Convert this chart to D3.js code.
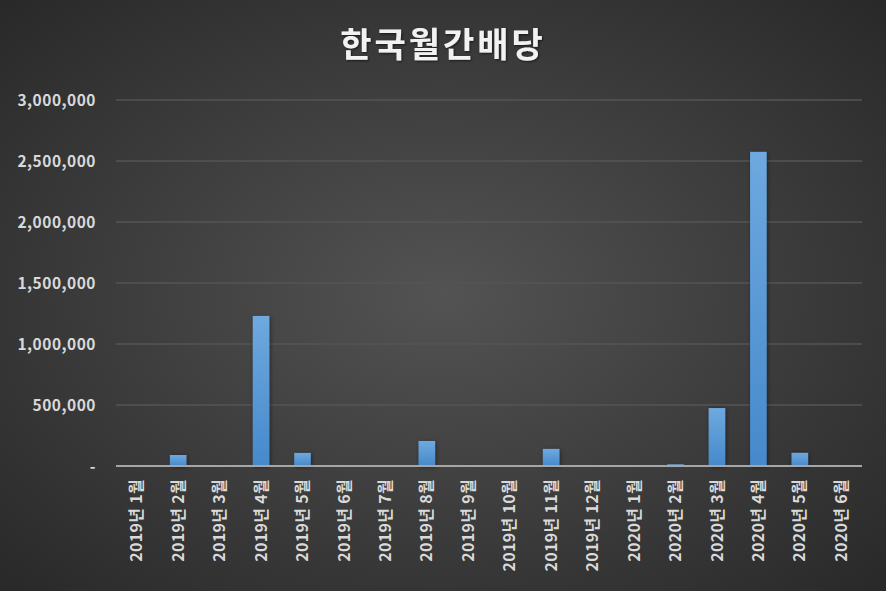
<!DOCTYPE html>
<html><head><meta charset="utf-8">
<script src="https://cdn.jsdelivr.net/npm/d3@7"></script>
<style>html,body{margin:0;padding:0;background:#2a2a2a;}svg{display:block;}</style>
</head><body>
<script>
const categories = ["2019년 1월","2019년 2월","2019년 3월","2019년 4월","2019년 5월","2019년 6월","2019년 7월","2019년 8월","2019년 9월","2019년 10월","2019년 11월","2019년 12월","2020년 1월","2020년 2월","2020년 3월","2020년 4월","2020년 5월","2020년 6월"];
const values = [0, 90000, 8000, 1230000, 107000, 0, 0, 205000, 6000, 0, 140000, 0, 0, 14000, 475000, 2575000, 108000, 0];
const yTicks = [0, 500000, 1000000, 1500000, 2000000, 2500000, 3000000];
const title = "한국월간배당";

const W = 886, H = 591;
const margin = {left: 116, right: 24, top: 100, bottom: 125};
const font = "'Noto Sans CJK KR', 'Noto Sans', sans-serif";

const svg = d3.select("body").append("svg").attr("width", W).attr("height", H);
const defs = svg.append("defs");
const bg = defs.append("radialGradient").attr("id","bg").attr("cx","50%").attr("cy","50%").attr("r","75%");
bg.append("stop").attr("offset","0%").attr("stop-color","#535353");
bg.append("stop").attr("offset","100%").attr("stop-color","#262626");
const bar = defs.append("linearGradient").attr("id","bar").attr("x1",0).attr("y1",0).attr("x2",0).attr("y2",1);
bar.append("stop").attr("offset","0%").attr("stop-color","#6ea9df");
bar.append("stop").attr("offset","100%").attr("stop-color","#4689cb");
const sh = defs.append("filter").attr("id","sh").attr("x","-50%").attr("y","-50%").attr("width","200%").attr("height","200%");
sh.append("feDropShadow").attr("dx",1).attr("dy",1).attr("stdDeviation",2).attr("flood-color","#000").attr("flood-opacity",0.45);
const tsh = defs.append("filter").attr("id","tsh").attr("x","-20%").attr("y","-20%").attr("width","140%").attr("height","140%");
tsh.append("feDropShadow").attr("dx",1).attr("dy",1).attr("stdDeviation",1.2).attr("flood-color","#000").attr("flood-opacity",0.6);

svg.append("rect").attr("width",W).attr("height",H).attr("fill","url(#bg)");

const x = d3.scaleBand().domain(categories).range([margin.left, W - margin.right]).paddingInner(0.6).paddingOuter(0.3);
const y = d3.scaleLinear().domain([0, 3000000]).range([H - margin.bottom, margin.top]);

// gridlines
const grid = svg.append("g");
grid.selectAll("line").data(yTicks.filter(d => d > 0)).join("line")
  .attr("x1", margin.left).attr("x2", W - margin.right)
  .attr("y1", d => y(d)).attr("y2", d => y(d))
  .attr("stroke", "#555555").attr("stroke-width", 1.5);

// y axis labels
const yAxis = d3.axisLeft(y).tickValues(yTicks).tickSize(0).tickPadding(0)
  .tickFormat(d => d === 0 ? "-" : d3.format(",")(d));
const ya = svg.append("g").attr("transform", `translate(${margin.left - 20},0)`).call(yAxis);
ya.select(".domain").remove();
ya.selectAll("text").attr("fill", "#d9d9d9").attr("font-family", font).attr("font-weight", "bold")
  .attr("font-size", 15.5).attr("letter-spacing", 0.5).attr("dy", "0.35em");

// bars
svg.append("g").selectAll("rect").data(values).join("rect")
  .attr("x", (d, i) => x(categories[i]))
  .attr("width", x.bandwidth())
  .attr("y", d => y(d))
  .attr("height", d => y(0) - y(d))
  .attr("fill", "url(#bar)")
  .attr("filter", "url(#sh)");

// baseline
svg.append("line").attr("x1", margin.left).attr("x2", W - margin.right)
  .attr("y1", y(0)).attr("y2", y(0)).attr("stroke", "#a6a6a6").attr("stroke-width", 2);

// x axis labels
const xAxis = d3.axisBottom(x).tickSize(0).tickPadding(0);
const xa = svg.append("g").attr("transform", `translate(0,${y(0)})`).call(xAxis);
xa.select(".domain").remove();
xa.selectAll("text")
  .attr("fill", "#d9d9d9").attr("font-family", font).attr("font-weight", "bold")
  .attr("font-size", 16).attr("letter-spacing", 0.3)
  .attr("text-anchor", "end")
  .attr("transform", "rotate(-90)")
  .attr("x", -13).attr("y", 0).attr("dy", "0.35em");

// title
svg.append("text").attr("x", W / 2).attr("y", 48).attr("text-anchor", "middle").attr("dominant-baseline", "middle")
  .attr("fill", "#f2f2f2").attr("font-family", font).attr("font-weight", "bold").attr("font-size", 34)
  .attr("letter-spacing", 3)
  .attr("filter", "url(#tsh)").text(title);
</script>
</body></html>
